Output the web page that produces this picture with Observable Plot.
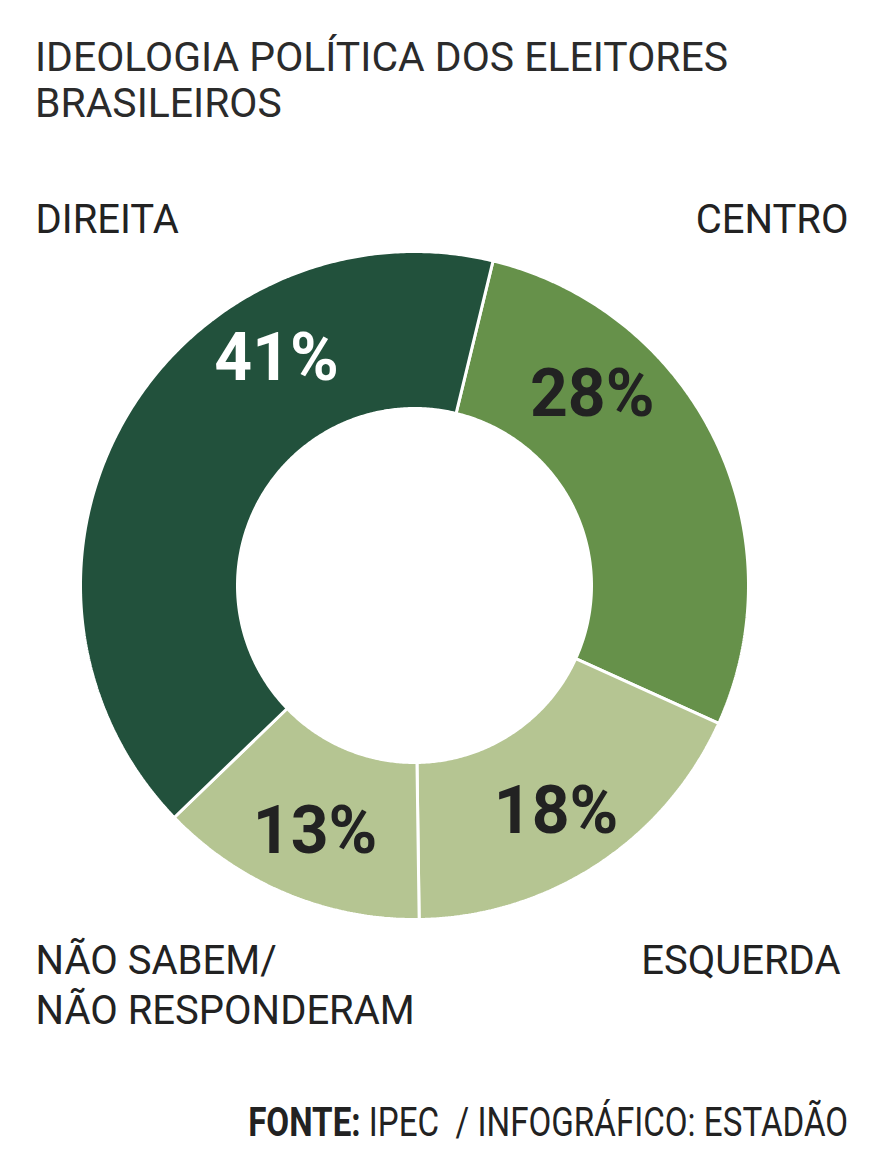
<!DOCTYPE html>
<html><head><meta charset="utf-8">
<script src="https://cdn.jsdelivr.net/npm/d3@7"></script>
<script src="https://cdn.jsdelivr.net/npm/@observablehq/plot@0.6"></script>
<style>
html,body{margin:0;padding:0;background:#fff;}
body{width:876px;height:1152px;overflow:hidden;position:relative;font-family:Roboto,"Liberation Sans",sans-serif;}
#title{position:absolute;left:35px;top:34px;font-size:41px;line-height:46px;color:#2b2b2b;white-space:nowrap;transform-origin:0 0;}
#chart{position:absolute;left:0;top:150px;}
#footer{position:absolute;right:28px;top:1103px;font-size:40px;line-height:40px;color:#222;white-space:nowrap;transform-origin:100% 0;}
#footer b{font-weight:700;}
</style></head><body>
<div id="title">IDEOLOGIA POLÍTICA DOS ELEITORES<br>BRASILEIROS</div>
<div id="chart"></div>
<div id="footer"><b>FONTE:</b> IPEC&nbsp; / INFOGRÁFICO: ESTADÃO</div>
<script>
// ---- data ----
const categories = ["Centro", "Esquerda", "Não sabem/não responderam", "Direita"];
const values = [28, 18, 13, 41];
const valueLabels = ["28%", "18%", "13%", "41%"];
const categoryLabels = ["CENTRO", "ESQUERDA", "NÃO SABEM/\nNÃO RESPONDERAM", "DIREITA"];
const sliceColors = ["#66914a", "#b5c592", "#b5c592", "#22513c"];
const valueLabelColors = ["#222222", "#222222", "#222222", "#ffffff"];

// ---- layout ----
const W = 876, H = 910;
const CX = 414, CY = 435, R = 334;
const INNER = 177 / 334;
const START_DEG = 13.6;
const labelPolar = { // angle (deg clockwise from north), radius as fraction of outer radius
  "Centro": [43, 0.78],
  "Esquerda": [148, 0.80],
  "Não sabem/não responderam": [202, 0.795],
  "Direita": [328.7, 0.795]
};
const rad = d => d * Math.PI / 180;

const data = categories.map((c, i) => ({category: c, value: values[i], label: valueLabels[i], labelColor: valueLabelColors[i]}));
const arcs = d3.pie().sort(null).value(d => d.value).startAngle(rad(START_DEG)).endAngle(rad(START_DEG) + 2 * Math.PI)(data);

const ringPts = [];
for (const a of arcs) {
  const n = Math.max(4, Math.ceil((a.endAngle - a.startAngle) / (Math.PI / 360)));
  const ring = [];
  for (let k = 0; k <= n; k++) {
    const t = a.startAngle + (a.endAngle - a.startAngle) * k / n;
    ring.push({x: Math.sin(t), y: Math.cos(t)});
  }
  for (let k = n; k >= 0; k--) {
    const t = a.startAngle + (a.endAngle - a.startAngle) * k / n;
    ring.push({x: INNER * Math.sin(t), y: INNER * Math.cos(t)});
  }
  ring.push(ring[0]);
  for (const p of ring) ringPts.push({...p, category: a.data.category});
}

const labelPts = data.map(d => {
  const [ang, rr] = labelPolar[d.category];
  return {...d, x: rr * Math.sin(rad(ang)), y: rr * Math.cos(rad(ang))};
});

const labelStyle = {fontSize: 40, fontFamily: "Roboto, sans-serif", fill: "#222", lineAnchor: "bottom"};

const plot = Plot.plot({
  width: W, height: H,
  margin: 0,
  x: {domain: [-1, 1], range: [CX - R, CX + R], axis: null},
  y: {domain: [-1, 1], range: [CY + R, CY - R], axis: null},
  color: {domain: categories, range: sliceColors},
  style: {background: "transparent", overflow: "visible"},
  marks: [
    Plot.line(ringPts, {x: "x", y: "y", z: "category", fill: "category", stroke: "white", strokeWidth: 3, curve: "linear", strokeLinejoin: "miter"}),
    Plot.text(labelPts, {x: "x", y: "y", text: "label", fill: "labelColor", fontSize: 66, fontWeight: 700, fontFamily: "Roboto, sans-serif"}),
    Plot.text([categoryLabels[3]], {...labelStyle, text: d => d, frameAnchor: "top-left", textAnchor: "start", dx: 35, dy: 82}),
    Plot.text([categoryLabels[0]], {...labelStyle, text: d => d, frameAnchor: "top-right", textAnchor: "end", dx: -28, dy: 82}),
    Plot.text([categoryLabels[1]], {...labelStyle, text: d => d, frameAnchor: "top-right", textAnchor: "end", dx: -36, dy: 823}),
    Plot.text([categoryLabels[2]], {...labelStyle, text: d => d, frameAnchor: "top-left", textAnchor: "start", dx: 35, dy: 873, lineHeight: 50 / 40})
  ]
});
document.getElementById("chart").appendChild(plot);

// condense title & footer to the reference widths
function fit(el, target, measureFirstLine) {
  let w;
  if (measureFirstLine) {
    const range = document.createRange();
    range.setStart(el.firstChild, 0);
    range.setEnd(el.firstChild, el.firstChild.length);
    w = range.getBoundingClientRect().width;
  } else {
    w = el.getBoundingClientRect().width;
  }
  el.style.transform = `scaleX(${target / w})`;
}
fit(document.getElementById("title"), 693, true);
fit(document.getElementById("footer"), 600, false);
</script>
</body></html>
